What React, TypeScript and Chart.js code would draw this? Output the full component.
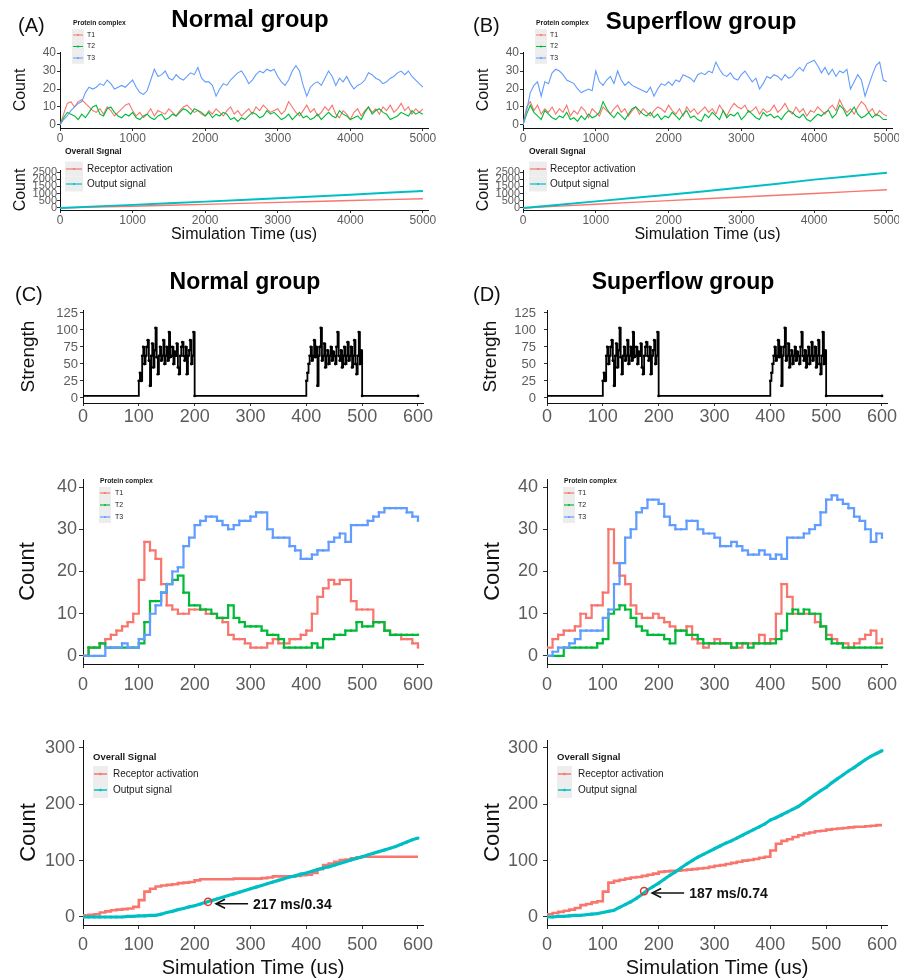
import React, { useEffect, useRef } from 'react';
import { Chart, registerables } from 'chart.js';

Chart.register(...registerables);

const FONT = '"Liberation Sans", Arial, Helvetica, sans-serif';
const RED = '#F8766D';
const GREEN = '#00BA38';
const BLUE = '#619CFF';
const TEAL = '#00BFC4';
const BLACK = '#111111';
const TICK_COLOR = '#5c5c5c';

// ---------------- Panels A / B : 0 – 5000 us ----------------
const TIME_LONG = Array.from({ length: 101 }, (_, i) => i * 50);

const A_T1 = [
  0, 6, 12, 13, 10, 13, 14, 12, 10, 8,
  7, 9, 6, 10, 8, 5, 7, 9, 11, 12,
  8, 5, 7, 4, 6, 9, 5, 8, 7, 6,
  9, 7, 5, 8, 10, 11, 9, 7, 8, 6,
  5, 8, 6, 9, 7, 5, 8, 10, 6, 8,
  5, 7, 9, 6, 10, 8, 11, 9, 7, 8,
  9, 6, 8, 13, 10, 7, 5, 8, 11, 7,
  9, 5, 7, 10, 8, 11, 6, 4, 8, 6,
  3, 7, 9, 5, 8, 10, 7, 9, 6, 10,
  8, 11, 7, 9, 12, 8, 10, 6, 9, 7,
  9,
];
const A_T2 = [
  0, 4, 7, 6, 5, 3, 6, 4, 7, 10,
  11, 6, 5, 9, 10, 7, 5, 4, 6, 5,
  7, 4, 3, 5, 6, 4, 3, 5, 6, 3,
  4, 6, 5, 7, 9, 8, 6, 9, 8, 7,
  5, 7, 4, 6, 5, 7, 6, 3, 4, 2,
  4, 3, 5, 7, 6, 4, 5, 8, 6, 7,
  5, 3, 4, 6, 3, 5, 7, 4, 5, 3,
  4, 6, 3, 5, 7, 5, 4, 8, 6, 5,
  3, 4, 5, 3, 7, 10, 6, 8, 9, 7,
  6, 3, 4, 5, 7, 6, 5, 8, 6, 7,
  6,
];
const A_T3 = [
  0, 3, 5, 8, 10, 12, 13, 18, 21, 20,
  21, 23, 22, 25, 23, 20, 21, 22, 21, 23,
  25, 21, 18, 17, 19, 25, 31, 27, 28, 30,
  26, 25, 28, 26, 25, 27, 29, 28, 32, 26,
  24, 24, 22, 16, 20, 23, 22, 25, 27, 29,
  30, 27, 23, 25, 28, 30, 29, 31, 30, 31,
  27, 24, 22, 25, 30, 33, 30, 22, 16, 21,
  23, 24, 22, 26, 30, 27, 22, 26, 24, 27,
  23, 20, 22, 23, 25, 29, 28, 26, 25, 23,
  24, 26, 27, 29, 30, 28, 30, 27, 25, 23,
  21,
];
const B_T1 = [
  0, 10, 13, 8, 11, 6, 9, 7, 10, 6,
  9, 7, 11, 5, 8, 6, 10, 8, 4, 9,
  7, 5, 10, 8, 6, 9, 11, 7, 9, 5,
  8, 10, 6, 9, 7, 5, 8, 10, 9, 7,
  11, 8, 6, 9, 5, 10, 7, 9, 6, 8,
  10, 7, 9, 6, 11, 8, 5, 9, 12, 10,
  9, 11, 7, 8, 10, 6, 9, 7, 8, 11,
  7, 9, 12, 8, 6, 10, 7, 9, 5, 8,
  7, 10, 8, 6, 9, 11, 8, 14, 10, 7,
  9, 6, 10, 13, 11, 7, 9, 5, 8, 6,
  5,
];
const B_T2 = [
  0, 6, 11, 7, 5, 3, 8, 6, 4, 3,
  5, 4, 7, 3, 4, 2, 5, 3, 6, 4,
  5, 7, 13, 9, 6, 4, 7, 5, 3, 6,
  9, 10, 8, 6, 5, 7, 4, 6, 3, 5,
  4, 7, 5, 3, 6, 8, 4, 5, 3, 2,
  6, 4, 7, 5, 3, 8, 4, 6, 5, 7,
  3, 5, 8, 6, 4, 3, 7, 5, 6, 4,
  5, 3, 6, 8, 7, 5, 4, 6, 3, 2,
  4, 6, 5, 7, 8, 4, 6, 11, 9, 5,
  7, 10, 6, 4, 5, 7, 4, 6, 5, 3,
  3,
];
const B_T3 = [
  0, 8, 18, 22, 24, 16, 24, 23, 29, 31,
  30, 28, 25, 24, 23, 20, 18, 19, 20, 19,
  30, 24, 22, 25, 27, 23, 30, 25, 22, 24,
  22, 21, 20, 19, 18, 21, 16, 20, 23, 22,
  24, 22, 25, 24, 28, 27, 26, 24, 28, 29,
  28, 30, 29, 35, 31, 28, 27, 29, 26, 25,
  28, 30, 27, 24, 26, 20, 23, 27, 26, 28,
  27, 25, 28, 26, 27, 30, 32, 30, 34, 35,
  36, 33, 29, 32, 28, 31, 27, 30, 29, 31,
  20, 24, 28, 25, 16, 22, 28, 33, 35, 25,
  24,
];

const TIME_LONG_CUM = Array.from({ length: 11 }, (_, i) => i * 500);
const A_RECEPTOR = [0, 60, 125, 190, 250, 320, 390, 450, 520, 580, 640];
const A_OUTPUT = [0, 110, 220, 330, 440, 560, 680, 800, 920, 1060, 1180];
const B_RECEPTOR = [0, 130, 260, 390, 510, 640, 760, 890, 1010, 1140, 1270];
const B_OUTPUT = [0, 230, 460, 690, 925, 1160, 1420, 1680, 1970, 2210, 2450];

// ---------------- Panels C / D : 0 – 600 us ----------------
const TIME_SHORT = Array.from({ length: 61 }, (_, i) => i * 10);

const C_T1 = [
  0, 2, 2, 3, 4, 5, 6, 7, 8, 10,
  18, 27, 25, 23, 17, 12, 11, 10, 10, 11,
  11, 11, 10, 10, 9, 8, 5, 4, 4, 3,
  2, 2, 2, 3, 4, 3, 3, 4, 4, 5,
  6, 10, 14, 16, 18, 17, 18, 18, 13, 11,
  11, 11, 8, 8, 6, 5, 5, 4, 4, 3,
  2,
];
const C_T2 = [
  0, 2, 2, 3, 2, 2, 2, 2, 2, 2,
  3, 8, 13, 13, 15, 17, 18, 19, 15, 12,
  12, 11, 11, 10, 9, 9, 12, 9, 8, 7,
  7, 7, 6, 5, 5, 4, 2, 2, 2, 2,
  2, 3, 2, 4, 4, 5, 5, 6, 6, 8,
  7, 7, 8, 8, 6, 5, 5, 5, 5, 5,
  5,
];
const C_T3 = [
  0, 0, 0, 0, 2, 2, 2, 3, 2, 2,
  4, 5, 10, 12, 15, 17, 20, 21, 26, 28,
  31, 32, 33, 33, 32, 31, 30, 31, 32, 32,
  33, 34, 34, 30, 28, 28, 28, 26, 25, 23,
  23, 24, 25, 25, 27, 28, 29, 27, 31, 31,
  31, 32, 33, 34, 35, 35, 35, 35, 34, 33,
  32,
];
const D_T1 = [
  2, 4, 5, 6, 6, 7, 10, 9, 12, 12,
  15, 30, 22, 19, 17, 12, 10, 9, 9, 10,
  9, 8, 7, 6, 6, 7, 4, 3, 2, 3,
  4, 3, 3, 2, 2, 3, 3, 3, 5, 3,
  4, 10, 17, 14, 10, 10, 10, 10, 8, 7,
  5, 4, 3, 3, 2, 3, 4, 5, 6, 3,
  4,
];
const D_T2 = [
  0, 0, 0, 2, 2, 2, 2, 2, 2, 3,
  4, 10, 11, 12, 11, 9, 7, 6, 5, 5,
  5, 4, 3, 6, 6, 5, 5, 4, 3, 3,
  3, 3, 3, 2, 3, 3, 2, 3, 3, 3,
  3, 4, 6, 10, 11, 10, 11, 10, 10, 7,
  4, 3, 3, 2, 2, 2, 2, 2, 2, 2,
  2,
];
const D_T3 = [
  0, 1, 2, 2, 3, 4, 6, 6, 6, 6,
  9, 11, 17, 22, 28, 30, 34, 35, 37, 37,
  36, 33, 31, 30, 30, 32, 32, 30, 29, 29,
  28, 26, 26, 27, 26, 25, 24, 24, 25, 24,
  23, 24, 23, 28, 28, 28, 29, 30, 31, 34,
  37, 38, 37, 36, 35, 33, 32, 30, 27, 29,
  28,
];

const C_RECEPTOR = [
  3, 4, 5, 8, 10, 12, 13, 14, 15, 18,
  30, 45, 50, 54, 56, 57, 58, 60, 61, 62,
  65, 67, 67, 67, 67, 67, 67, 68, 68, 68,
  68, 68, 69, 70, 72, 72, 72, 72, 73, 74,
  75, 78, 85, 92, 95, 98, 101, 102, 104, 106,
  107, 107, 107, 107, 107, 107, 107, 107, 107, 107,
  107,
];
const C_OUTPUT = [
  0, 0, 0, 0, 0, 0, 0, 0, 1, 1,
  2, 2, 3, 3, 5, 8, 10, 13, 15, 18,
  20, 23, 26, 29, 32, 35, 38, 41, 44, 47,
  50, 53, 56, 59, 62, 65, 68, 71, 73, 76,
  78, 81, 84, 87, 89, 92, 95, 98, 101, 104,
  107, 110, 113, 116, 119, 122, 125, 129, 133, 137,
  140,
];
const D_RECEPTOR = [
  5, 7, 9, 11, 13, 16, 21, 23, 26, 28,
  45, 61, 64, 66, 68, 70, 71, 73, 75, 77,
  80, 81, 82, 82, 83, 84, 85, 86, 87, 89,
  91, 92, 94, 96, 98, 100, 101, 103, 105, 107,
  118, 130, 135, 138, 142, 145, 148, 150, 152, 153,
  155, 156, 157, 158, 159, 160, 160, 161, 162, 163,
  163,
];
const D_OUTPUT = [
  0, 0, 1, 1, 2, 3, 3, 4, 5, 6,
  8, 10, 12, 17, 22, 27, 33, 40, 48, 54,
  60, 67, 74, 80, 87, 94, 100, 106, 111, 116,
  121, 126, 131, 135, 140, 145, 150, 155, 160, 165,
  172, 176, 181, 186, 191, 196, 203, 210, 217, 224,
  230, 238, 245, 252, 259, 265, 272, 279, 285, 290,
  295,
];

// Stimulus strength (same protocol for both groups)
const STRENGTH_BASELINE = 3;
const PULSE_OFF = [200, 500];
const PULSE1_TIME = Array.from({ length: 50 }, (_, i) => 100 + i * 2);
const PULSE1_VALUES = [
  25, 37, 25, 62, 75, 50, 62, 75, 85, 55,
  18, 62, 80, 45, 70, 103, 60, 35, 62, 75,
  55, 62, 85, 50, 62, 75, 55, 97, 60, 62,
  75, 50, 68, 62, 80, 45, 35, 62, 75, 82,
  62, 55, 75, 35, 62, 70, 85, 50, 62, 97,
];
const PULSE2_TIME = Array.from({ length: 50 }, (_, i) => 400 + i * 2);
const PULSE2_VALUES = [
  25, 37, 50, 62, 75, 55, 62, 85, 60, 75,
  18, 62, 75, 103, 55, 62, 80, 45, 62, 70,
  50, 62, 75, 55, 68, 62, 50, 75, 97, 62,
  55, 70, 45, 62, 75, 50, 62, 82, 55, 62,
  75, 45, 62, 85, 50, 35, 62, 97, 50, 70,
];

// Annotated points
const NOTE_C = { x: 224, y: 27, text: '217 ms/0.34' };
const NOTE_D = { x: 174, y: 46, text: '187 ms/0.74' };

// Tick values
const TICKS_LONG_X = [0, 1000, 2000, 3000, 4000, 5000];
const TICKS_COUNT = [0, 10, 20, 30, 40];
const TICKS_CUM_LONG = [0, 500, 1000, 1500, 2000, 2500];
const TICKS_SHORT_X = [0, 100, 200, 300, 400, 500, 600];
const TICKS_STRENGTH = [0, 25, 50, 75, 100, 125];
const TICKS_CUM_SHORT = [0, 100, 200, 300];

const T_LABELS = ['T1', 'T2', 'T3'];
const SIGNAL_LABELS = ['Receptor activation', 'Output signal'];

// ---------------- helpers ----------------
function zip(times: number[], values: number[]) {
  return values.map((v, i) => ({ x: times[i], y: v }));
}

function strengthPoints() {
  return [
    { x: 0, y: STRENGTH_BASELINE },
    ...zip(PULSE1_TIME, PULSE1_VALUES),
    { x: PULSE_OFF[0], y: STRENGTH_BASELINE },
    ...zip(PULSE2_TIME, PULSE2_VALUES),
    { x: PULSE_OFF[1], y: STRENGTH_BASELINE },
    { x: 600, y: STRENGTH_BASELINE },
  ];
}

const ggLegendPlugin = {
  id: 'ggLegend',
  afterDraw(chart: any, _args: any, o: any) {
    if (!o || !o.title) return;
    const ctx = chart.ctx as CanvasRenderingContext2D;
    ctx.save();
    ctx.textBaseline = 'middle';
    ctx.textAlign = 'left';
    ctx.fillStyle = '#1a1a1a';
    ctx.font = `bold ${o.titleSize}px ${FONT}`;
    ctx.fillText(o.title, o.x, o.y);
    chart.data.datasets.forEach((ds: any, i: number) => {
      const cy = o.rowStart + i * o.rowH;
      ctx.fillStyle = '#EDEDED';
      ctx.fillRect(o.keyX, cy - o.rowH / 2, o.keyW, o.rowH);
      ctx.strokeStyle = ds.borderColor;
      ctx.lineWidth = o.lineW;
      ctx.beginPath();
      ctx.moveTo(o.keyX + 1, cy);
      ctx.lineTo(o.keyX + o.keyW - 1, cy);
      ctx.stroke();
      ctx.fillStyle = ds.borderColor;
      ctx.beginPath();
      ctx.arc(o.keyX + o.keyW / 2, cy, Math.max(1, o.lineW * 0.8), 0, Math.PI * 2);
      ctx.fill();
      ctx.fillStyle = '#1a1a1a';
      ctx.font = `${o.fontSize}px ${FONT}`;
      ctx.fillText(ds.label, o.textX, cy);
    });
    ctx.restore();
  },
};

const ggNotePlugin = {
  id: 'ggNote',
  afterDatasetsDraw(chart: any, _args: any, o: any) {
    if (!o || !o.text) return;
    const ctx = chart.ctx as CanvasRenderingContext2D;
    const px = chart.scales.x.getPixelForValue(o.x);
    const py = chart.scales.y.getPixelForValue(o.y);
    ctx.save();
    ctx.strokeStyle = '#E3352E';
    ctx.lineWidth = 1.5;
    ctx.beginPath();
    ctx.arc(px, py, 3.6, 0, Math.PI * 2);
    ctx.stroke();
    const ay = py + 2;
    ctx.strokeStyle = '#111';
    ctx.lineWidth = 1.6;
    ctx.beginPath();
    ctx.moveTo(px + 40, ay);
    ctx.lineTo(px + 8, ay);
    ctx.stroke();
    ctx.beginPath();
    ctx.moveTo(px + 17, ay - 4.5);
    ctx.lineTo(px + 8, ay);
    ctx.lineTo(px + 17, ay + 4.5);
    ctx.stroke();
    ctx.fillStyle = '#111';
    ctx.font = `bold 14px ${FONT}`;
    ctx.textBaseline = 'middle';
    ctx.textAlign = 'left';
    ctx.fillText(o.text, px + 45, py + 3);
    ctx.restore();
  },
};

type Rect = { left: number; top: number; width: number; height: number };
type Plot = { l: number; t: number; r: number; b: number };
type LegendSpec = {
  title: string; x: number; y: number; titleSize: number;
  rowStart: number; rowH: number; keyX: number; keyW: number;
  textX: number; fontSize: number; lineW: number;
};
type PanelSpec = {
  canvas: Rect;
  plot: Plot;
  datasets: any[];
  xMin: number; xMax: number; xTicks: number[]; xFont: number; xTick: [number, number];
  yMin: number; yMax: number; yTicks: number[]; yFont: number; yTick: [number, number];
  yTitle: string; yTitleSize: number; yTitleCenter: number;
  xTitle?: string; xTitleSize?: number; xTitleCenter?: number;
  legend?: LegendSpec;
  note?: { x: number; y: number; text: string };
};

function buildConfig(s: PanelSpec): any {
  const c = s.canvas;
  const p = s.plot;
  const yBox = p.l - c.left;
  const xBox = c.top + c.height - p.b;
  const yTitlePad = s.yTitleCenter - c.left - (s.yTitleSize * 1.2) / 2;
  const xTitleSize = s.xTitleSize || 12;
  const xTitlePad =
    s.xTitleCenter !== undefined ? c.top + c.height - s.xTitleCenter - (xTitleSize * 1.2) / 2 : 0;
  const legend = s.legend
    ? {
        ...s.legend,
        x: s.legend.x - c.left,
        y: s.legend.y - c.top,
        rowStart: s.legend.rowStart - c.top,
        keyX: s.legend.keyX - c.left,
        textX: s.legend.textX - c.left,
      }
    : {};
  return {
    type: 'line',
    data: { datasets: s.datasets },
    plugins: [ggLegendPlugin, ggNotePlugin],
    options: {
      responsive: false,
      animation: false,
      devicePixelRatio: 1,
      events: [],
      layout: { padding: { left: 0, top: p.t - c.top, right: Math.max(0, c.left + c.width - p.r), bottom: 0 } },
      plugins: {
        legend: { display: false },
        tooltip: { enabled: false },
        ggLegend: legend,
        ggNote: s.note || {},
      },
      scales: {
        x: {
          type: 'linear',
          min: s.xMin,
          max: s.xMax,
          afterBuildTicks: (ax: any) => {
            ax.ticks = s.xTicks.map((v) => ({ value: v }));
          },
          afterFit: (sc: any) => {
            sc.height = xBox;
            sc.paddingLeft = 0;
            sc.paddingRight = 0;
          },
          ticks: {
            autoSkip: false,
            maxRotation: 0,
            minRotation: 0,
            padding: s.xTick[1],
            color: TICK_COLOR,
            font: { family: FONT, size: s.xFont },
            callback: (v: any) => String(v),
          },
          grid: { display: true, drawOnChartArea: false, drawTicks: true, tickLength: s.xTick[0], color: '#333' },
          border: { display: true, color: BLACK, width: 1 },
          title: s.xTitle
            ? {
                display: true,
                text: s.xTitle,
                color: BLACK,
                font: { family: FONT, size: xTitleSize, lineHeight: 1.2 },
                padding: { top: 0, bottom: xTitlePad },
              }
            : { display: false },
        },
        y: {
          type: 'linear',
          min: s.yMin,
          max: s.yMax,
          afterBuildTicks: (ax: any) => {
            ax.ticks = s.yTicks.map((v) => ({ value: v }));
          },
          afterFit: (sc: any) => {
            sc.width = yBox;
            sc.paddingTop = 0;
            sc.paddingBottom = 0;
          },
          ticks: {
            autoSkip: false,
            padding: s.yTick[1],
            color: TICK_COLOR,
            font: { family: FONT, size: s.yFont },
            callback: (v: any) => String(v),
          },
          grid: { display: true, drawOnChartArea: false, drawTicks: true, tickLength: s.yTick[0], color: '#333' },
          border: { display: true, color: BLACK, width: 1 },
          title: {
            display: true,
            text: s.yTitle,
            color: BLACK,
            font: { family: FONT, size: s.yTitleSize, lineHeight: 1.2 },
            padding: { top: yTitlePad, bottom: 0 },
          },
        },
      },
    },
  };
}

function series(label: string, color: string, times: number[], values: number[], extra: any) {
  return {
    label,
    data: zip(times, values),
    borderColor: color,
    backgroundColor: color,
    pointRadius: 0,
    pointBorderWidth: 0,
    ...extra,
  };
}

function longCountSets(t1: number[], t2: number[], t3: number[]) {
  const st = { borderWidth: 1.1 };
  return [
    series(T_LABELS[0], RED, TIME_LONG, t1, { ...st, order: 3 }),
    series(T_LABELS[1], GREEN, TIME_LONG, t2, { ...st, order: 2 }),
    series(T_LABELS[2], BLUE, TIME_LONG, t3, { ...st, order: 1 }),
  ];
}
function longCumSets(rec: number[], out: number[]) {
  return [
    series(SIGNAL_LABELS[0], RED, TIME_LONG_CUM, rec, { borderWidth: 1.4, order: 2 }),
    series(SIGNAL_LABELS[1], TEAL, TIME_LONG_CUM, out, { borderWidth: 1.9, order: 1 }),
  ];
}
function shortCountSets(t1: number[], t2: number[], t3: number[]) {
  const st = { borderWidth: 2.2, stepped: true, pointRadius: 1.3 };
  return [
    series(T_LABELS[0], RED, TIME_SHORT, t1, { ...st, order: 3 }),
    series(T_LABELS[1], GREEN, TIME_SHORT, t2, { ...st, order: 2 }),
    series(T_LABELS[2], BLUE, TIME_SHORT, t3, { ...st, order: 1 }),
  ];
}
function shortCumSets(rec: number[], out: number[]) {
  return [
    series(SIGNAL_LABELS[0], RED, TIME_SHORT, rec, { borderWidth: 2.6, stepped: true, order: 2 }),
    series(SIGNAL_LABELS[1], TEAL, TIME_SHORT, out, { borderWidth: 3.2, pointRadius: 1.6, order: 1 }),
  ];
}
function strengthSets() {
  return [
    {
      label: 'Strength',
      data: strengthPoints(),
      borderColor: '#000',
      backgroundColor: '#000',
      borderWidth: 1.8,
      stepped: true,
      pointRadius: 1.4,
      pointBorderWidth: 0,
    },
  ];
}

// ---------------- panel layout ----------------
const LEFT_A = { canvasLeft: 0, canvasW: 450, plotL: 60, plotR: 428 };
const RIGHT_A = { canvasLeft: 465, canvasW: 434, plotL: 523, plotR: 892 };
const LEFT_C = { canvasLeft: 0, canvasW: 450, plotL: 83, plotR: 423 };
const RIGHT_C = { canvasLeft: 460, canvasW: 449, plotL: 547, plotR: 887 };

function topLong(col: any, sets: any[], titleX: number, legendX: number, textX: number): PanelSpec {
  return {
    canvas: { left: col.canvasLeft, top: 15, width: col.canvasW, height: 133 },
    plot: { l: col.plotL, t: 52, r: col.plotR, b: 128 },
    datasets: sets,
    xMin: 0, xMax: 5070, xTicks: TICKS_LONG_X, xFont: 12, xTick: [3, 0],
    yMin: -1.7, yMax: 40.6, yTicks: TICKS_COUNT, yFont: 12, yTick: [3, 1],
    yTitle: 'Count', yTitleSize: 16, yTitleCenter: titleX,
    legend: {
      title: 'Protein complex', x: legendX + 1, y: 23, titleSize: 6.8,
      rowStart: 35, rowH: 11.5, keyX: legendX, keyW: 12, textX, fontSize: 6.8, lineW: 1,
    },
  };
}
function bottomLong(col: any, sets: any[], titleX: number, legendX: number, textX: number): PanelSpec {
  return {
    canvas: { left: col.canvasLeft, top: 148, width: col.canvasW, height: 100 },
    plot: { l: col.plotL, t: 170, r: col.plotR, b: 210 },
    datasets: sets,
    xMin: 0, xMax: 5070, xTicks: TICKS_LONG_X, xFont: 12, xTick: [3, 0],
    yMin: -139, yMax: 2640, yTicks: TICKS_CUM_LONG, yFont: 11, yTick: [3, 0],
    yTitle: 'Count', yTitleSize: 16, yTitleCenter: titleX,
    xTitle: 'Simulation Time (us)', xTitleSize: 16, xTitleCenter: 235,
    legend: {
      title: 'Overall Signal', x: legendX, y: 152, titleSize: 8.5,
      rowStart: 169, rowH: 15, keyX: legendX, keyW: 18, textX, fontSize: 10, lineW: 1.2,
    },
  };
}
function strengthPanel(col: any, titleX: number, yPad: number): PanelSpec {
  return {
    canvas: { left: col.canvasLeft, top: 300, width: col.canvasW, height: 130 },
    plot: { l: col.plotL, t: 310, r: col.plotR, b: 403 },
    datasets: strengthSets(),
    xMin: 0, xMax: 609, xTicks: TICKS_SHORT_X, xFont: 18, xTick: [3, 0],
    yMin: -7.4, yMax: 129.4, yTicks: TICKS_STRENGTH, yFont: 13, yTick: [3, yPad],
    yTitle: 'Strength', yTitleSize: 19, yTitleCenter: titleX,
  };
}
function middleShort(col: any, sets: any[], titleX: number, yPad: number, legendX: number, textX: number): PanelSpec {
  return {
    canvas: { left: col.canvasLeft, top: 470, width: col.canvasW, height: 230 },
    plot: { l: col.plotL, t: 479, r: col.plotR, b: 664 },
    datasets: sets,
    xMin: 0, xMax: 609, xTicks: TICKS_SHORT_X, xFont: 18, xTick: [4, 6],
    yMin: -1.9, yMax: 41.9, yTicks: TICKS_COUNT, yFont: 18, yTick: [4, yPad],
    yTitle: 'Count', yTitleSize: 22, yTitleCenter: titleX,
    legend: {
      title: 'Protein complex', x: legendX + 1, y: 481, titleSize: 6.8,
      rowStart: 493, rowH: 12, keyX: legendX, keyW: 12, textX, fontSize: 7, lineW: 1.2,
    },
  };
}
function bottomShort(col: any, sets: any[], titleX: number, yPad: number, legendX: number, textX: number, note: any): PanelSpec {
  return {
    canvas: { left: col.canvasLeft, top: 730, width: col.canvasW, height: 250 },
    plot: { l: col.plotL, t: 740, r: col.plotR, b: 925 },
    datasets: sets,
    xMin: 0, xMax: 609, xTicks: TICKS_SHORT_X, xFont: 18, xTick: [4, 5],
    yMin: -14.2, yMax: 314, yTicks: TICKS_CUM_SHORT, yFont: 18, yTick: [4, yPad],
    yTitle: 'Count', yTitleSize: 22, yTitleCenter: titleX,
    xTitle: 'Simulation Time (us)', xTitleSize: 20, xTitleCenter: 968,
    legend: {
      title: 'Overall Signal', x: legendX, y: 757, titleSize: 9.5,
      rowStart: 774, rowH: 16, keyX: legendX, keyW: 15, textX, fontSize: 10, lineW: 1.5,
    },
    note,
  };
}

const PANELS: PanelSpec[] = [
  topLong(LEFT_A, longCountSets(A_T1, A_T2, A_T3), 21, 72, 87),
  bottomLong(LEFT_A, longCumSets(A_RECEPTOR, A_OUTPUT), 21, 65, 87),
  topLong(RIGHT_A, longCountSets(B_T1, B_T2, B_T3), 484, 535, 550),
  bottomLong(RIGHT_A, longCumSets(B_RECEPTOR, B_OUTPUT), 484, 529, 550),
  strengthPanel(LEFT_C, 28.5, 2),
  strengthPanel(RIGHT_C, 491, 8),
  middleShort(LEFT_C, shortCountSets(C_T1, C_T2, C_T3), 28, 2, 99, 115),
  middleShort(RIGHT_C, shortCountSets(D_T1, D_T2, D_T3), 493, 5, 563, 578),
  bottomShort(LEFT_C, shortCumSets(C_RECEPTOR, C_OUTPUT), 28.5, 4, 93, 113, NOTE_C),
  bottomShort(RIGHT_C, shortCumSets(D_RECEPTOR, D_OUTPUT), 493, 5, 557, 578, NOTE_D),
];

const TAGS = [
  { text: '(A)', left: 18, baseline: 32, size: 20 },
  { text: '(B)', left: 473, baseline: 32, size: 20 },
  { text: '(C)', left: 15, baseline: 301, size: 20 },
  { text: '(D)', left: 473, baseline: 301, size: 20 },
];
const HEADINGS = [
  { text: 'Normal group', center: 250, baseline: 27, size: 24 },
  { text: 'Superflow group', center: 701, baseline: 29, size: 24 },
  { text: 'Normal group', center: 245, baseline: 289, size: 23 },
  { text: 'Superflow group', center: 683, baseline: 289, size: 23 },
];

function Panel({ spec }: { spec: PanelSpec }) {
  const ref = useRef<HTMLCanvasElement | null>(null);
  useEffect(() => {
    if (!ref.current) return;
    const chart = new Chart(ref.current, buildConfig(spec));
    return () => chart.destroy();
  }, [spec]);
  const c = spec.canvas;
  return (
    <canvas
      ref={ref}
      width={c.width}
      height={c.height}
      style={{ position: 'absolute', left: c.left, top: c.top, width: c.width, height: c.height }}
    />
  );
}

export default function App() {
  return (
    <div
      style={{
        position: 'absolute',
        left: 0,
        top: 0,
        width: 909,
        height: 980,
        background: '#ffffff',
        overflow: 'hidden',
        fontFamily: FONT,
      }}
    >
      {PANELS.map((p, i) => (
        <Panel key={i} spec={p} />
      ))}
      {TAGS.map((t, i) => (
        <div
          key={'t' + i}
          style={{
            position: 'absolute',
            left: t.left,
            top: t.baseline - 0.8465 * t.size,
            fontSize: t.size,
            lineHeight: `${t.size}px`,
            color: '#111',
            whiteSpace: 'nowrap',
          }}
        >
          {t.text}
        </div>
      ))}
      {HEADINGS.map((h, i) => (
        <div
          key={'h' + i}
          style={{
            position: 'absolute',
            left: h.center,
            top: h.baseline - 0.8465 * h.size,
            transform: 'translateX(-50%)',
            fontSize: h.size,
            lineHeight: `${h.size}px`,
            fontWeight: 'bold',
            color: '#000',
            whiteSpace: 'nowrap',
          }}
        >
          {h.text}
        </div>
      ))}
    </div>
  );
}
